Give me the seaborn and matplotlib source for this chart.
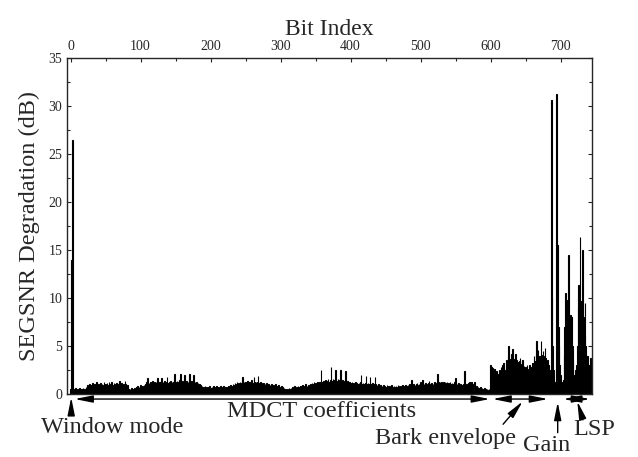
import numpy as np
import pandas as pd
import matplotlib
matplotlib.use("Agg")
import matplotlib.pyplot as plt
import seaborn as sns
from matplotlib.ticker import MultipleLocator

# SEGSNR degradation per bit (bit 0 .. 744)
window_mode = [0.5, 14.0, 14.0, 26.5]

mdct = [
    0.5, 0.3, 0.4, 0.6, 0.3, 0.4, 0.5, 0.3, 0.4, 0.6, 0.4, 0.3, 0.5, 0.4, 0.6, 0.3, 0.5, 0.4, 0.7, 0.5,
    0.9, 0.6, 0.7, 1.0, 0.8, 0.6, 0.9, 1.1, 0.7, 0.8, 1.0, 0.7, 0.9, 1.2, 0.8, 0.7, 1.0, 0.9, 0.6, 1.1,
    0.8, 1.0, 0.7, 0.9, 1.2, 0.8, 1.0, 0.7, 1.1, 0.9, 0.8, 1.2, 0.7, 1.0, 0.9, 1.3, 0.8, 0.9, 1.1, 0.7,
    1.0, 0.8, 1.1, 0.9, 0.7, 1.0, 1.4, 0.9, 0.8, 1.1, 0.7, 0.9, 1.0, 0.8, 1.4, 1.0, 0.7, 0.9, 0.6, 0.5,
    0.4, 0.5, 0.4, 0.6, 0.3, 0.5, 0.4, 0.6, 0.5, 0.4, 0.7, 0.6, 0.8, 0.5, 0.7, 0.6, 0.9, 0.7, 0.6, 0.8,
    0.7, 0.9, 0.6, 1.0, 0.8, 1.2, 1.7, 0.9, 1.1, 0.8, 1.3, 1.0, 0.9, 1.4, 1.1, 0.8, 1.2, 1.0, 1.3, 0.9,
    1.7, 1.1, 0.9, 1.3, 1.0, 1.2, 1.7, 1.0, 1.2, 0.9, 1.4, 1.1, 1.0, 1.3, 1.8, 1.1, 0.9, 1.2, 1.0, 1.4,
    1.1, 1.3, 1.0, 1.2, 1.5, 2.1, 1.2, 1.0, 1.4, 1.1, 1.3, 1.0, 1.5, 2.1, 1.2, 1.1, 1.4, 1.0, 1.3, 2.0,
    1.2, 1.0, 1.4, 1.1, 1.3, 1.0, 2.1, 1.2, 1.1, 1.4, 1.0, 1.3, 2.0, 1.1, 1.2, 0.9, 1.3, 1.0, 1.1, 0.8,
    1.0, 0.7, 0.9, 0.6, 0.8, 0.5, 0.7, 0.6, 0.8, 0.5, 0.7, 0.6, 0.4, 0.7, 0.5, 0.8, 0.6, 0.5, 0.7, 0.6,
    0.8, 0.5, 0.6, 0.7, 0.5, 0.8, 0.6, 0.7, 0.5, 0.6, 0.8, 0.6, 0.5, 0.7, 0.6, 0.8, 0.5, 0.7, 0.6, 0.5,
    0.7, 0.6, 0.8, 0.5, 0.7, 0.9, 0.6, 0.8, 1.0, 0.7, 0.9, 1.1, 0.8, 1.0, 1.3, 0.9, 1.1, 0.8, 1.2, 1.0,
    1.1, 1.3, 1.8, 1.0, 1.2, 0.9, 1.3, 1.1, 1.0, 1.4, 1.2, 0.9, 1.3, 1.0, 1.2, 1.5, 1.1, 1.0, 1.8, 1.2,
    1.0, 1.3, 1.1, 1.2, 1.9, 1.1, 1.0, 1.3, 0.9, 1.1, 1.0, 0.8, 1.1, 0.9, 1.0, 0.8, 1.1, 0.9, 0.7, 1.0,
    0.8, 0.9, 0.7, 1.0, 0.8, 0.6, 0.9, 0.7, 0.8, 1.0, 0.7, 0.6, 0.8, 0.9, 0.6, 0.7, 0.5, 0.8, 0.6, 0.7,
    0.5, 0.6, 0.4, 0.5, 0.4, 0.3, 0.5, 0.4, 0.6, 0.5, 0.4, 0.6, 0.5, 0.7, 0.5, 0.6, 0.8, 0.5, 0.6, 0.7,
    0.6, 0.8, 0.5, 0.7, 0.6, 0.8, 0.6, 0.9, 0.7, 0.6, 0.8, 0.7, 1.0, 0.7, 0.8, 0.6, 0.9, 0.7, 0.8, 1.0,
    0.9, 1.1, 0.8, 1.0, 1.2, 0.9, 1.1, 1.0, 0.8, 1.2, 1.0, 0.9, 1.3, 1.1, 2.5, 1.2, 1.0, 1.4, 1.1, 1.3,
    1.5, 1.2, 1.4, 1.1, 1.6, 1.3, 1.2, 1.5, 2.8, 1.4, 1.3, 1.6, 1.2, 1.5, 1.3, 2.5, 1.4, 1.2, 1.6, 1.3,
    1.5, 1.2, 2.5, 1.4, 1.3, 1.5, 1.2, 1.4, 1.1, 2.4, 1.3, 1.2, 1.4, 1.1, 1.0, 1.3, 1.1, 0.9, 1.2, 1.0,
    1.1, 0.9, 1.0, 1.2, 0.9, 1.1, 1.0, 0.8, 1.1, 1.0, 1.2, 2.0, 1.0, 0.9, 1.1, 1.0, 0.8, 1.1, 1.9, 1.0,
    0.9, 1.1, 0.8, 1.0, 1.8, 1.0, 0.9, 1.1, 0.8, 1.0, 0.9, 1.8, 1.0, 0.8, 0.9, 0.7, 1.0, 0.8, 0.7, 0.9,
    0.7, 0.8, 0.6, 0.9, 0.7, 0.8, 0.6, 0.7, 0.9, 0.6, 0.8, 0.7, 0.6, 0.8, 0.7, 0.9, 0.6, 0.7, 0.8, 0.6,
    0.7, 0.8, 0.6, 0.7, 0.9, 0.6, 0.8, 0.7, 0.6, 0.8, 0.9, 0.7, 0.6, 0.8, 0.7, 0.9, 0.8, 0.7, 0.9, 0.8,
    1.0, 0.8, 0.9, 1.5, 0.9, 0.8, 1.0, 0.7, 0.9, 0.8, 1.0, 1.1, 0.8, 0.9, 1.0, 0.8, 1.2, 0.9, 1.0, 1.5,
    0.9, 1.0, 0.8, 1.1, 0.9, 1.0, 0.8, 1.1, 1.4, 0.9, 1.0, 0.8, 1.1, 0.9, 1.0, 0.8, 1.2, 0.9, 1.0, 1.1,
    2.1, 1.0, 1.2, 1.1, 1.3, 1.0, 1.2, 1.1, 0.9, 1.2, 1.0, 1.3, 1.1, 0.9, 1.2, 1.0, 1.1, 0.9, 1.2, 1.0,
    0.9, 1.1, 0.8, 1.0, 0.9, 1.2, 1.7, 0.9, 1.0, 0.8, 1.1, 0.9, 0.7, 1.0, 0.8, 0.9, 0.7, 1.0, 0.8, 2.4,
    0.9, 0.8, 1.0, 0.7, 0.9, 1.1, 1.3, 0.8, 0.9, 1.2, 0.7, 0.8, 1.0, 1.3, 0.7, 0.6, 0.8, 0.6, 0.7, 0.5,
    0.6, 0.5, 0.7, 0.5, 0.6, 0.4, 0.5, 0.6, 0.4, 0.5, 0.4, 0.5, 0.3, 0.4, 0.5, 0.4,
]

bark = [
    3.0, 2.8, 2.5, 2.7, 2.3, 2.0, 2.6, 2.2, 1.9, 2.4, 2.1, 1.8, 2.0, 2.5, 2.2, 2.8, 2.4, 3.0, 2.6, 3.2,
    2.5, 2.0, 2.8, 3.5, 3.0, 4.0, 5.0, 3.6, 3.2, 3.5, 4.2, 4.7, 3.4, 3.0, 3.6, 2.8, 4.2, 3.5, 3.0, 3.3,
    2.9, 3.4, 3.8, 3.1, 2.7, 3.0, 3.5, 2.6, 2.9, 2.4, 2.8, 2.5, 3.0, 2.3, 2.6, 2.2, 3.0, 2.5, 2.2, 2.8,
    3.2, 2.7, 4.0, 3.4, 3.0, 4.2, 5.5, 3.8, 4.6, 3.5, 4.0, 3.2, 5.5, 4.1, 3.6, 4.5, 4.0, 3.3, 4.8, 3.7,
    3.0, 3.5, 2.6, 3.0, 2.2, 1.8,
]

gain = [2.5, 30.6, 10.0, 5.0, 2.5, 1.0, 0.8, 1.2, 31.2, 9.0, 15.5, 7.0, 5.0, 3.0, 2.0, 1.2, 0.8, 1.0, 1.5]

lsp = [
    4.0, 7.0, 10.5, 8.0, 9.8, 6.0, 14.5, 8.0, 7.5, 8.2, 6.5, 8.0, 5.0, 3.5,
    2.0, 1.5, 2.5, 1.8, 3.0, 5.0,
    9.0, 11.4, 8.0, 16.4, 9.7, 7.0, 15.0, 9.5, 8.0, 6.0, 9.5, 5.0, 4.0, 3.5, 4.0, 3.0, 2.5, 2.0, 3.8, 3.0,
]

values = window_mode + mdct + bark + gain + lsp
df = pd.DataFrame({"bit": np.arange(len(values)), "segsnr": values})

sns.set_theme(style="ticks")
plt.rcParams["font.family"] = ["Liberation Serif", "DejaVu Serif"]

fig, ax = plt.subplots(figsize=(6.38, 4.57), dpi=100)
fig.subplots_adjust(left=67 / 638, right=592 / 638, top=1 - 58 / 457, bottom=1 - 394 / 457)

sns.barplot(data=df, x="bit", y="segsnr", native_scale=True, color="black",
            saturation=1, width=1.0, edgecolor="black", linewidth=0.8,
            errorbar=None, ax=ax)

ax.set_xlim(-5, 745)
ax.set_ylim(0, 35)
ax.xaxis.tick_top()
ax.xaxis.set_label_position("top")
ax.set_xticks(range(0, 701, 100))
ax.xaxis.set_minor_locator(MultipleLocator(50))
ax.yaxis.set_major_locator(MultipleLocator(5))
ax.yaxis.set_minor_locator(MultipleLocator(2.5))
ax.tick_params(which="both", direction="in", top=True, bottom=True, left=True, right=True,
               labelbottom=False, labeltop=True, labelsize=10, width=0.8)
ax.tick_params(which="major", length=3)
ax.tick_params(which="minor", length=2)
for s in ax.spines.values():
    s.set_linewidth(1.0)
ax.set_xlabel("Bit Index", fontsize=17, labelpad=4)
ax.set_ylabel("SEGSNR Degradation (dB)", fontsize=17.5, labelpad=6)

# segment annotations below the axis (x in bits, y in axes fraction)
tr = ax.get_xaxis_transform()
double = dict(arrowstyle="<|-|>,head_length=0.9,head_width=0.18", color="black",
              lw=1.0, shrinkA=0, shrinkB=0)
single = dict(arrowstyle="-|>,head_length=0.9,head_width=0.18", color="black",
              lw=1.0, shrinkA=0, shrinkB=0)
yline = -0.015
for a, b in [(6, 599), (603, 682), (704, 742)]:
    ax.annotate("", xy=(a, yline), xytext=(b, yline), xycoords=tr, textcoords=tr,
                arrowprops=double, annotation_clip=False)

ax.annotate("", xy=(1, -0.01), xytext=(1, -0.05), xycoords=tr, textcoords=tr,
            arrowprops=single, annotation_clip=False)
ax.annotate("", xy=(696, -0.024), xytext=(696, -0.115), xycoords=tr, textcoords=tr,
            arrowprops=single, annotation_clip=False)
ax.annotate("", xy=(646, -0.022), xytext=(618, -0.09), xycoords=tr, textcoords=tr,
            arrowprops=single, annotation_clip=False)
ax.annotate("", xy=(724, -0.022), xytext=(732, -0.077), xycoords=tr, textcoords=tr,
            arrowprops=single, annotation_clip=False)

txt = dict(xycoords=tr, fontsize=17.5, ha="center", va="center", annotation_clip=False)
ax.annotate("Window mode", xy=(59, -0.101), **txt)
ax.annotate("MDCT coefficients", xy=(359, -0.051), **txt)
ax.annotate("Bark envelope", xy=(536, -0.131), **txt)
ax.annotate("Gain", xy=(680, -0.152), **txt)
ax.annotate("LSP", xy=(748, -0.107), **txt)

fig.savefig("out.png", dpi=100)
